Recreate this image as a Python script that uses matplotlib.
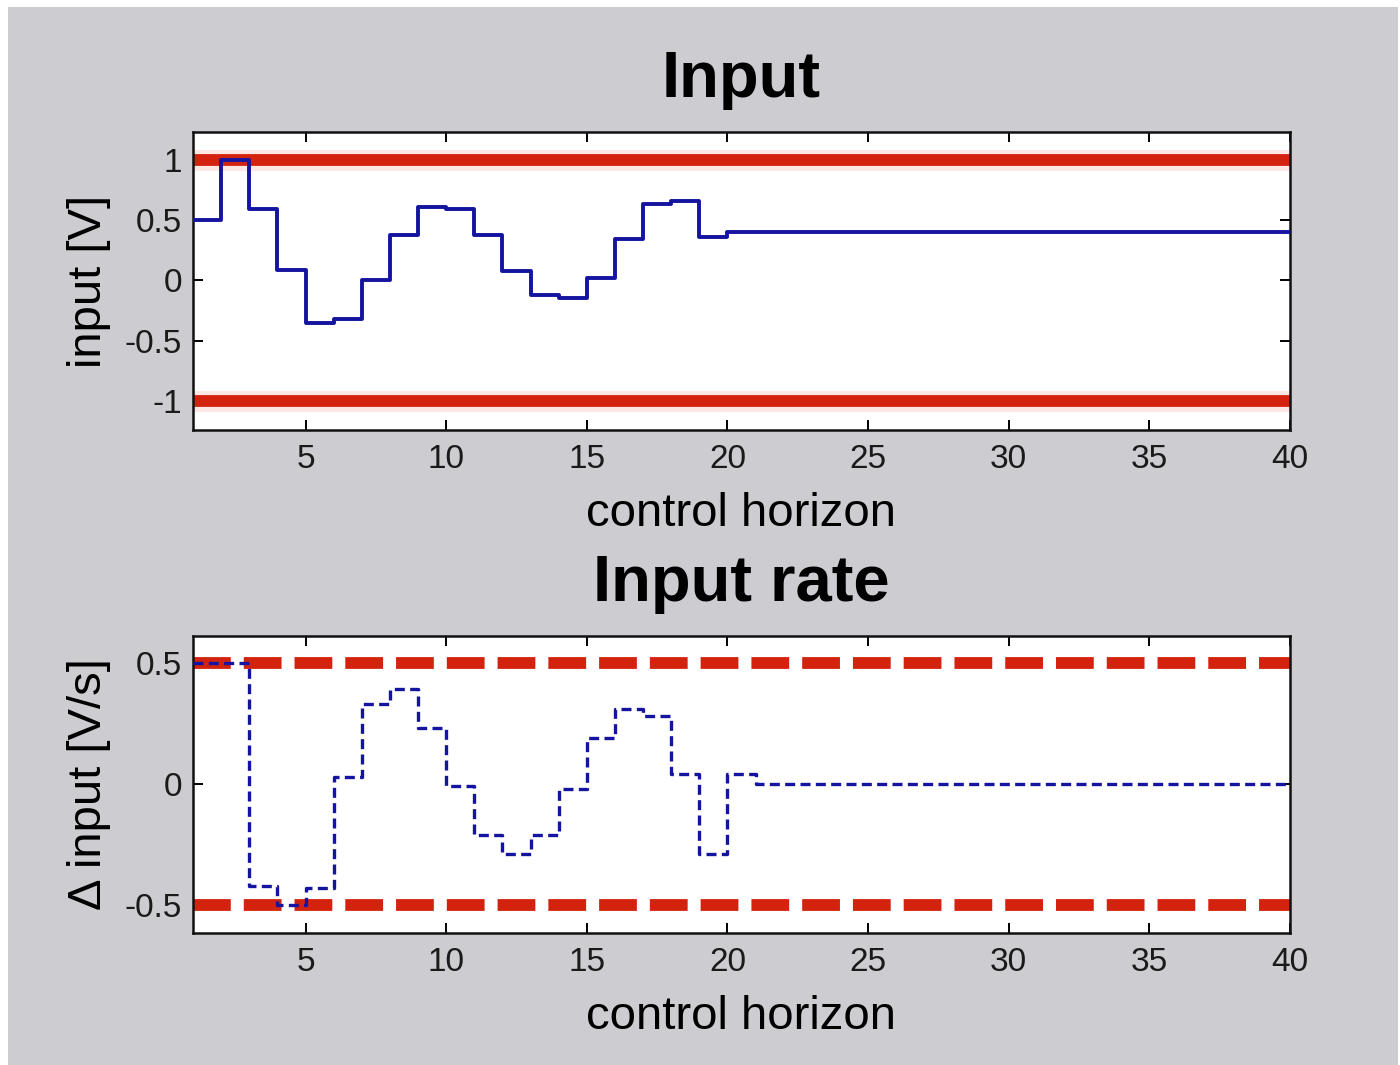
import matplotlib
matplotlib.use("Agg")
import matplotlib.pyplot as plt
from matplotlib.patches import Rectangle

plt.rcParams["font.family"] = ["Liberation Sans", "DejaVu Sans"]
plt.rcParams["axes.unicode_minus"] = False

# control horizon steps
k = list(range(1, 41))

# input [V] per step
u = [0.50, 1.00, 0.59, 0.09, -0.35, -0.32, 0.00, 0.38, 0.61, 0.59,
     0.38, 0.08, -0.12, -0.15, 0.02, 0.34, 0.63, 0.66, 0.36, 0.40,
     0.40, 0.40, 0.40, 0.40, 0.40, 0.40, 0.40, 0.40, 0.40, 0.40,
     0.40, 0.40, 0.40, 0.40, 0.40, 0.40, 0.40, 0.40, 0.40, 0.40]

# input rate [V/s] per step
du = [0.50, 0.50, -0.42, -0.50, -0.43, 0.03, 0.33, 0.39, 0.23, -0.01,
      -0.21, -0.29, -0.21, -0.02, 0.19, 0.31, 0.28, 0.04, -0.29, 0.04,
      0.00, 0.00, 0.00, 0.00, 0.00, 0.00, 0.00, 0.00, 0.00, 0.00,
      0.00, 0.00, 0.00, 0.00, 0.00, 0.00, 0.00, 0.00, 0.00, 0.00]

u_lim = [-1.0, 1.0]
du_lim = [-0.5, 0.5]

xticks = [5, 10, 15, 20, 25, 30, 35, 40]
u_ticks = [-1, -0.5, 0, 0.5, 1]
u_ticklabels = ["-1", "-0.5", "0", "0.5", "1"]
du_ticks = [-0.5, 0, 0.5]
du_ticklabels = ["-0.5", "0", "0.5"]

BG = "#cdccd1"
RED = "#d3230f"
NAVY = "#1414a0"

fig = plt.figure(figsize=(14, 10.65), dpi=100, facecolor="white")
fig.patches.append(Rectangle((8 / 1400, 0), 1390 / 1400, 1 - 7 / 1065,
                             transform=fig.transFigure, facecolor=BG,
                             edgecolor="none", zorder=-10))

ax1 = fig.add_axes([193 / 1400, 1 - 430 / 1065, 1097 / 1400, 298 / 1065])
ax2 = fig.add_axes([193 / 1400, 1 - 933 / 1065, 1097 / 1400, 297 / 1065])

# top: input with hard bounds
for lim in u_lim:
    ax1.axhline(lim, color="#fde7e4", lw=15, zorder=1)
    ax1.axhline(lim, color=RED, lw=8.5, zorder=2)
ax1.step(k, u, where="post", color=NAVY, lw=2.8, zorder=3)
ax1.set_xlim(1, 40)
ax1.set_ylim(-1.24, 1.23)
ax1.set_yticks(u_ticks)
ax1.set_yticklabels(u_ticklabels)
ax1.set_title("Input", fontsize=47, fontweight="bold", pad=25)
ax1.set_ylabel("input [V]", fontsize=34, labelpad=10)

# bottom: input rate with bounds
for lim in du_lim:
    ax2.axhline(lim, color=RED, lw=8.5, linestyle=(0, (3.2, 1.1)), zorder=2)
ax2.step(k, du, where="post", color=NAVY, lw=2.4,
         linestyle=(0, (3.0, 1.6)), zorder=3)
ax2.set_xlim(1, 40)
ax2.set_ylim(-0.616, 0.611)
ax2.set_yticks(du_ticks)
ax2.set_yticklabels(du_ticklabels)
ax2.set_title("Input rate", fontsize=47, fontweight="bold", pad=25)
ax2.set_ylabel("\u0394 input [V/s]", fontsize=34, labelpad=10)

for ax in (ax1, ax2):
    ax.set_facecolor("white")
    ax.set_xticks(xticks)
    ax.set_xlabel("control horizon", fontsize=34, labelpad=12)
    ax.tick_params(direction="in", top=True, right=True, length=7, width=1.4,
                   labelsize=24, labelcolor="#1a1a1a")
    ax.tick_params(axis="x", pad=10)
    ax.tick_params(axis="y", pad=8)
    for s in ax.spines.values():
        s.set_linewidth(1.8)
        s.set_color("#111111")

fig.savefig("out.png", dpi=100, facecolor=fig.get_facecolor())
